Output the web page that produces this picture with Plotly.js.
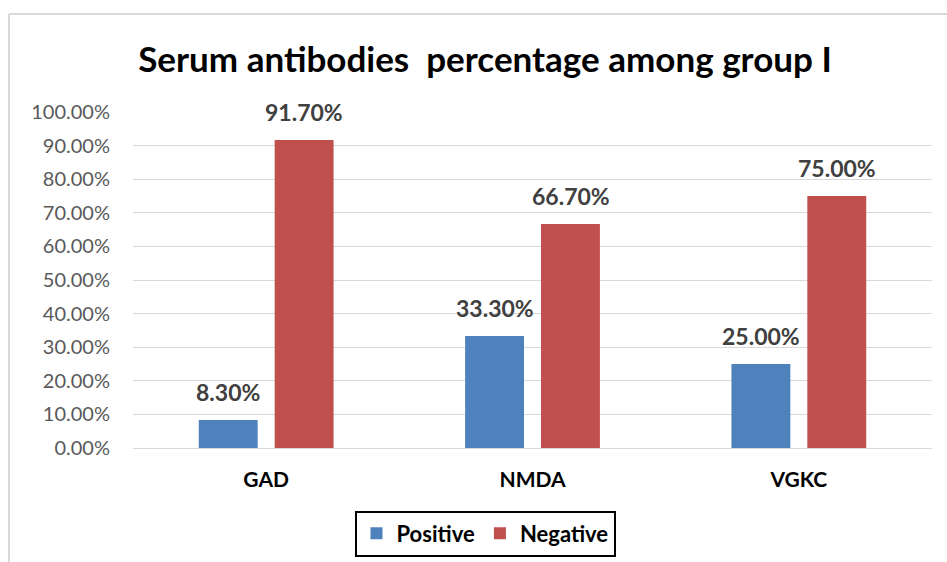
<!DOCTYPE html>
<html>
<head>
<meta charset="utf-8">
<script src="https://cdn.plot.ly/plotly-3.0.1.min.js"></script>
<style>html,body{margin:0;padding:0;background:#fff;}#chart{width:947px;height:562px;}</style>
</head>
<body>
<div id="chart"></div>
<script>
const categories = ["GAD", "NMDA", "VGKC"];
const positive = [8.3, 33.3, 25.0];
const negative = [91.7, 66.7, 75.0];
const seriesNames = ["Positive", "Negative"];
const tickValues = [0, 10, 20, 30, 40, 50, 60, 70, 80, 90, 100];
const tickLabels = tickValues.map(v => v.toFixed(2) + "%");

const FONT = "Lato, 'Open Sans', sans-serif";
const colors = ["#4F81BD", "#C0504D"];
const series = [positive, negative];

const traces = series.map((vals, i) => ({
  type: "bar",
  name: seriesNames[i],
  x: categories,
  y: vals,
  marker: {color: colors[i]},
  hoverinfo: "skip"
}));

const annotations = [];
series.forEach((vals, i) => {
  vals.forEach((v, j) => {
    annotations.push({
      x: categories[j], y: v, xref: "x", yref: "y",
      text: v.toFixed(2) + "%",
      showarrow: false, yanchor: "bottom",
      xshift: i === 0 ? -38 : 38, yshift: 12,
      font: {family: FONT, size: 23, color: "#404040", weight: "bold"}
    });
  });
});

const px = (p) => (p - 133) / 799;
const py = (p) => (448 - p) / 336;

const layout = {
  width: 947, height: 562,
  margin: {l: 133, r: 15, t: 112, b: 114, autoexpand: false},
  paper_bgcolor: "#fff", plot_bgcolor: "#fff",
  title: {text: "<b>Serum antibodies  percentage among group I</b>", font: {family: FONT, size: 35, color: "#000"},
          x: px(485), xanchor: "center", xref: "paper", y: 1 - 60/562, yanchor: "middle"},
  barmode: "group", bargap: 0.43, bargroupgap: 0.224,
  xaxis: {
    showgrid: false, zeroline: false, showline: false, ticks: "",
    tickfont: {family: FONT, size: 21, color: "#000", weight: "bold"},
    ticklabelstandoff: 17
  },
  yaxis: {
    range: [0, 100], tickvals: tickValues, ticktext: tickLabels,
    showgrid: true, gridcolor: "#d9d9d9", gridwidth: 1,
    zeroline: true, zerolinecolor: "#d9d9d9", zerolinewidth: 1,
    showline: false, ticks: "",
    tickfont: {family: FONT, size: 20, color: "#595959"},
    ticklabelstandoff: 22
  },
  showlegend: true,
  legend: {
    orientation: "h", xref: "container", yref: "container",
    x: 485 / 947, xanchor: "center", y: (562 - 533.5) / 562, yanchor: "middle",
    bordercolor: "#000", borderwidth: 2, bgcolor: "#fff",
    font: {family: FONT, size: 22, color: "#000", weight: "bold"},
    itemwidth: 30, traceorder: "normal"
  },
  shapes: [
    {type: "line", xref: "paper", yref: "paper", x0: px(9), x1: px(960), y0: py(14), y1: py(14), line: {color: "#d9d9d9", width: 2}},
    {type: "line", xref: "paper", yref: "paper", x0: px(9), x1: px(9), y0: py(14), y1: py(570), line: {color: "#d9d9d9", width: 2}}
  ],
  annotations: annotations
};

Plotly.newPlot("chart", traces, layout, {displayModeBar: false, staticPlot: true});
</script>
</body>
</html>
